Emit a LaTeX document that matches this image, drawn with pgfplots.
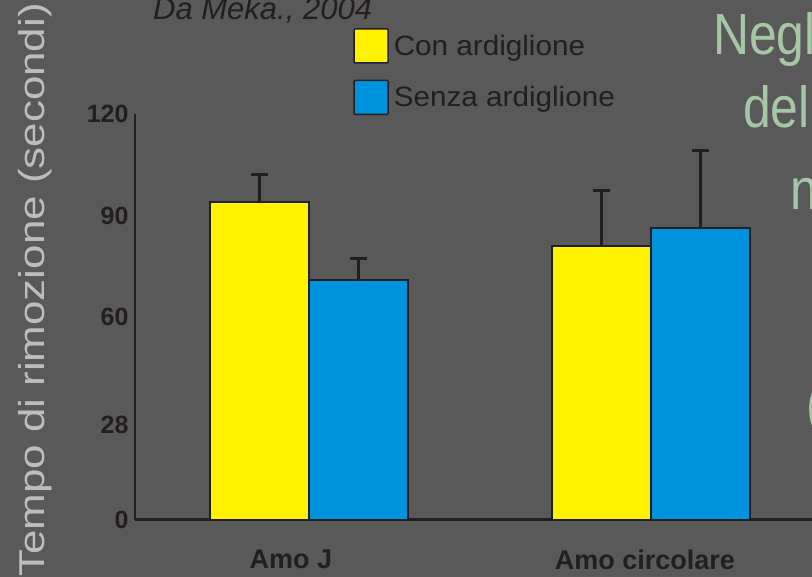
\documentclass[border=0pt]{standalone}
\usepackage{pgfplots}
\pgfplotsset{compat=1.18}
\usepackage{fontspec}
\setmainfont{Liberation Sans}
\definecolor{bg}{HTML}{595959}
\definecolor{ink}{HTML}{231F20}
\definecolor{barY}{HTML}{FFF200}
\definecolor{barB}{HTML}{0093DD}
\definecolor{ylab}{HTML}{BDBDBD}
\definecolor{slide}{HTML}{A6C6A6}

\begin{document}
\begin{tikzpicture}
\useasboundingbox (0pt,0pt) rectangle (812pt,577pt);
\clip (0pt,0pt) rectangle (812pt,577pt);
\fill[bg] (0pt,0pt) rectangle (812pt,577pt);

% side text of the slide
\tikzset{slidetext/.style={anchor=base west, inner sep=0, text=slide, font=\fontsize{58}{58}\selectfont}}
\node[slidetext] at (713pt,522pt) {\scalebox{0.86}[1]{Negli}};
\node[slidetext] at (743pt,449pt) {\scalebox{0.86}[1]{dell}};
\node[slidetext] at (790pt,367pt) {\scalebox{0.86}[1]{ne}};
\node[slidetext] at (806pt,152pt) {\scalebox{0.86}[1]{(}};

% source
\node[anchor=base west, inner sep=0, text=ink, font=\fontsize{31}{31}\selectfont\itshape] at (153pt,557pt) {Da Meka., 2004};

% y label
\node[rotate=90, anchor=base, inner sep=0, text=ylab, font=\fontsize{36}{36}\selectfont] at (45pt,287pt) {\scalebox{1.22}[1]{Tempo di rimozione (secondi)}};

\begin{axis}[
  at={(135pt,57pt)}, anchor=south west,
  scale only axis, width=715pt, height=406pt,
  xmin=-0.509, xmax=1.582, ymin=0, ymax=120,
  axis x line=bottom, axis y line=left,
  axis line style={ink, line width=1.5pt, -},
  x axis line style={line width=3pt},
  major tick length=0pt,
  /pgf/number format/assume math mode=true,
  ytick={0,28,60,90,120},
  yticklabel style={text=ink, font=\fontsize{25}{25}\selectfont\bfseries, xshift=-3pt},
  xtick={-0.053,0.982},
  xticklabels={Amo J, Amo circolare},
  xticklabel style={text=ink, font=\fontsize{27}{27}\selectfont\bfseries, yshift=-26pt},
  ybar=0pt, bar width=99pt,
  legend image code/.code={\draw[#1, line width=1.5pt, rounded corners=1pt] (0pt,-17pt) rectangle (34pt,17pt);},
  legend style={at={(axis description cs:0.305,1.212)}, anchor=north west,
    draw=none, fill=none, inner sep=0pt, row sep=16pt,
    text=ink, font=\fontsize{28}{28}\selectfont,
    nodes={inner xsep=5pt}},
  legend cell align=left,
  error bars/y dir=plus, error bars/y explicit,
  error bars/error bar style={ink, line width=2.5pt},
  error bars/error mark options={ink, line width=3pt, mark size=8.5pt, rotate=90},
]
\addplot[fill=barY, draw=ink, line width=1.5pt] coordinates {(0,94) +- (0,8) (1,81) +- (0,16.3)};
\addplot[fill=barB, draw=ink, line width=1.5pt] coordinates {(0,71) +- (0,6.2) (1,86.3) +- (0,22.8)};
\legend{\scalebox{1.06}[1]{Con ardiglione}, \scalebox{1.06}[1]{Senza ardiglione}}
\end{axis}
\end{tikzpicture}
\end{document}
